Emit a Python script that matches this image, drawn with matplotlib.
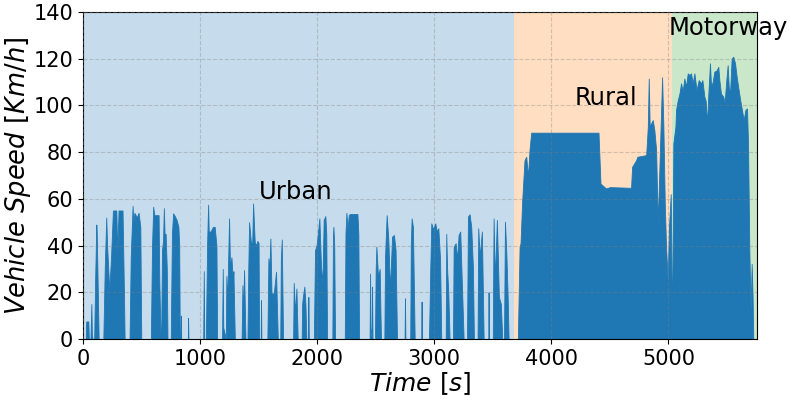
import matplotlib
matplotlib.use("Agg")
import matplotlib.pyplot as plt
import numpy as np

# Speed trace breakpoints (time [s], speed [km/h])
urban_t = [0, 24, 28, 46, 50, 64, 72, 76, 82, 96, 104, 114, 118, 134,
           174, 186, 199, 206, 225, 240, 256, 285, 293, 304, 338, 350, 356,
           398, 408, 424, 430, 440, 460, 475, 490, 498,
           580, 590, 600, 609, 646, 652, 663,
           668, 675, 684, 691, 697, 706, 716, 722,
           750, 760, 770, 780, 800, 815, 822, 827,
           834, 836, 839, 896, 898, 901,
           1027, 1032, 1036,
           1050, 1060, 1069, 1074, 1090, 1110, 1125, 1140, 1146,
           1188, 1194, 1198, 1220, 1225, 1232, 1248, 1256, 1268, 1280, 1285, 1297,
           1355, 1362, 1368, 1376, 1388,
           1405, 1412, 1419, 1433, 1445, 1453, 1467, 1480, 1490, 1500, 1504,
           1518, 1521, 1524,
           1575, 1584, 1592, 1601, 1610, 1630, 1649, 1664,
           1685, 1690, 1698, 1709,
           1795, 1800, 1811, 1823, 1834,
           1868, 1872, 1878, 1891, 1900, 1908,
           1922, 1925, 1929,
           1972, 1982, 1995, 2012, 2019, 2033, 2045, 2056, 2070, 2078, 2085,
           2130, 2135, 2139, 2146, 2153,
           2236, 2242, 2250, 2260, 2270, 2280, 2344, 2352, 2358,
           2448, 2452, 2456, 2466, 2469, 2473,
           2494, 2500, 2506, 2520, 2534, 2545,
           2574, 2580, 2588, 2594, 2608, 2622, 2640, 2656, 2670, 2682,
           2747, 2750, 2754,
           2795, 2800, 2807, 2818, 2833,
           2889, 2892, 2895,
           2955, 2966, 2975, 2990, 3009, 3022, 3035, 3050, 3060,
           3098, 3103, 3110, 3120, 3131,
           3160, 3166, 3183, 3195, 3208, 3222, 3236, 3251,
           3280, 3288, 3302, 3316, 3330, 3339,
           3370, 3376, 3388, 3407, 3422,
           3462, 3464, 3467,
           3500, 3507, 3518, 3535, 3552, 3569, 3581,
           3596, 3604, 3615, 3628, 3635]
urban_v = [0, 0, 7.5, 7.5, 0, 0, 15, 2, 0, 0, 25, 49, 45, 0,
           0, 30, 52, 40, 21, 35, 55, 55, 37, 55, 55, 20, 0,
           0, 35, 57, 50, 54, 52, 54, 48, 0,
           0, 40, 56.6, 53, 53, 25, 0,
           0, 38, 42, 56, 45, 45, 30, 0,
           0, 45, 53.8, 53, 51, 48, 40, 0,
           0, 10, 0, 0, 9, 0,
           0, 29, 0,
           0, 40, 57.5, 46, 46, 48, 48, 40, 0,
           0, 30, 5, 0, 27, 15, 51.6, 30, 35, 25, 29, 0,
           0, 23, 10, 29.5, 0,
           0, 30, 50, 42, 40, 58, 41.6, 40, 42, 41, 0,
           0, 16.6, 0,
           0, 34.5, 30, 43, 19.5, 19.5, 28.8, 0,
           0, 34, 42.6, 0,
           0, 24, 11, 21.6, 0,
           0, 15, 18, 22.4, 15, 0,
           0, 18, 0,
           0, 38, 40, 48, 51.6, 31, 24, 51, 52.6, 45, 0,
           0, 44, 48, 40, 0,
           0, 45, 54, 47, 53, 53.5, 53.5, 45, 0,
           0, 28, 5, 0, 22.4, 0,
           0, 30, 39.5, 26.6, 30, 0,
           0, 35, 46, 53, 42.4, 21, 43.8, 44.5, 38, 0,
           0, 17.4, 0,
           0, 40, 51.6, 48, 0,
           0, 16, 0,
           0, 29.6, 49.5, 47, 49.5, 46, 47.4, 34, 0,
           0, 45, 30, 20, 0,
           0, 39.5, 41, 34, 44.5, 46, 23.8, 0,
           0, 52.4, 53.4, 48, 31, 0,
           0, 47.4, 35, 46, 0,
           0, 20, 0,
           0, 51.6, 25, 51, 18, 15, 0,
           0, 50.2, 38, 16.6, 0]

rural_t = [3714, 3729, 3737, 3751, 3771, 3786, 3800, 3814, 3828, 4100, 4403,
           4420, 4468, 4500, 4681, 4690, 4724, 4735, 4810, 4824, 4832, 4840, 4866,
           4880, 4895, 4909, 4925, 4946, 4957, 4969, 4980, 4994, 5005, 5020]
rural_v = [0, 39.4, 41, 59, 76.5, 78, 69.4, 81, 88.3, 88.3, 88.3,
           66.5, 64.4, 65, 64.7, 73.7, 76.5, 78, 78.7, 90.8, 111.5, 91, 93.7,
           89.4, 80.8, 49.4, 76.5, 112, 90.8, 58, 39.4, 25, 48, 62]

motorway_t = [5031, 5042, 5060, 5065, 5079, 5094, 5108, 5122, 5136, 5150, 5165, 5179,
              5193, 5207, 5222, 5240, 5259, 5278, 5290, 5307, 5318, 5330, 5341, 5355,
              5364, 5378, 5392, 5412, 5426, 5435, 5449, 5469, 5480, 5492, 5506, 5515,
              5526, 5540, 5554, 5569, 5583, 5600, 5614, 5628, 5643, 5657, 5671, 5680,
              5691, 5702, 5711, 5719, 5725]
motorway_v = [1, 83.7, 91, 98, 102, 105, 109.4, 106, 111.5, 108, 113.7, 113,
              113.7, 109.4, 113.7, 106.5, 110.8, 109.4, 110.8, 103.7, 102, 92.2, 105, 118,
              108, 110, 114.4, 115, 116.5, 110.8, 105, 103.7, 101, 109.4, 117.2, 108,
              105, 120, 120.8, 118, 112.2, 106.5, 102, 98, 93.7, 98, 98.7, 83.7,
              38, 12.2, 32.2, 18, 0]

zone_names = ["Urban", "Rural", "Motorway"]
zone_edges = [0, 3680, 5030, 5755]
zone_colors = ["tab:blue", "tab:orange", "tab:green"]
label_pos = [(1500, 60), (4200, 100), (5000, 130)]

time = np.array(urban_t + rural_t + motorway_t, dtype=float)
speed = np.array(urban_v + rural_v + motorway_v, dtype=float)

fig = plt.figure(figsize=(7.9, 3.96), dpi=100)
ax = fig.add_axes([0.105, 0.144, 0.853, 0.826])

for i, name in enumerate(zone_names):
    ax.axvspan(zone_edges[i], zone_edges[i + 1], color=zone_colors[i], alpha=0.25, lw=0)
    ax.text(label_pos[i][0], label_pos[i][1], name, fontsize=17.5, ha="left", va="baseline")

ax.fill_between(time, speed, 0, color="tab:blue", lw=0.6, edgecolor="tab:blue")

ax.set_xlim(0, zone_edges[-1])
ax.set_ylim(0, 140)
ax.set_yticks(np.arange(0, 141, 20))
ax.set_xticks(np.arange(0, 5001, 1000))
ax.tick_params(labelsize=15)
ax.grid(True, linestyle="--", color="gray", alpha=0.35, lw=0.8)
ax.set_axisbelow(False)
ax.set_xlabel(r"$Time\ [s]$", fontsize=18, labelpad=1)
ax.set_ylabel(r"$Vehicle\ Speed\ [Km/h]$", fontsize=18.5, labelpad=0)

fig.savefig("out.png", dpi=100)
